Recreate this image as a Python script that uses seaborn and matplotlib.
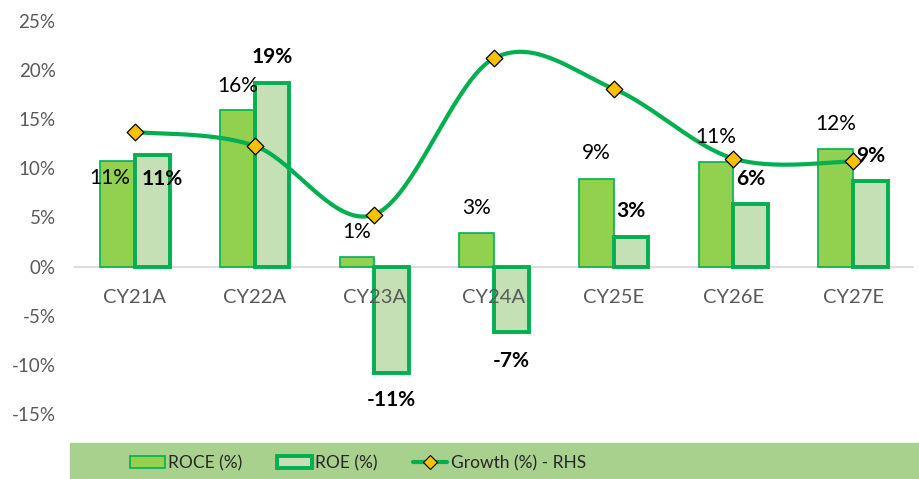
import numpy as np
import pandas as pd
import seaborn as sns
import matplotlib.pyplot as plt
from matplotlib.patches import Rectangle, Patch
from matplotlib.lines import Line2D

# data
categories = ["CY21A", "CY22A", "CY23A", "CY24A", "CY25E", "CY26E", "CY27E"]
roce = [10.8, 15.9, 1.0, 3.4, 8.9, 10.6, 12.0]
roe = [11.4, 18.7, -10.8, -6.7, 3.0, 6.4, 8.7]
growth = [13.7, 12.3, 5.3, 21.2, 18.1, 11.0, 10.7]
roce_labels = ["11%", "16%", "1%", "3%", "9%", "11%", "12%"]
roe_labels = ["11%", "19%", "-11%", "-7%", "3%", "6%", "9%"]

# label nudges in pixels (Excel labels were moved by hand in a couple of places)
roce_offsets = [(-8, -17), (0, 24), (0, 25), (0, 25), (0, 26), (0, 25), (0, 25)]
roe_offsets = [(10, -24), (0, 26), (0, -27), (0, -29), (0, 26), (0, 25), (0, 25)]

sns.set_style("white")
plt.rcParams["font.family"] = ["Lato", "DejaVu Sans"]

GREEN = "#00B050"
ROCE_FILL = "#92D050"
ROE_FILL = "#C5E0B4"
GOLD = "#FFC000"

fig = plt.figure(figsize=(9.19, 4.79), dpi=100)
ax = fig.add_axes([75 / 919, 1 - 414 / 479, 838 / 919, 393 / 479])

df = pd.DataFrame({
    "cat": categories * 2,
    "metric": ["ROCE (%)"] * 7 + ["ROE (%)"] * 7,
    "value": roce + roe,
})
sns.barplot(data=df, x="cat", y="value", hue="metric", order=categories,
            palette=[ROCE_FILL, ROE_FILL], width=0.58, gap=0, saturation=1,
            legend=False, ax=ax, zorder=2)

for bar in ax.containers[0]:
    bar.set_edgecolor(GREEN)
    bar.set_linewidth(1.2)
for bar in ax.containers[1]:
    bar.set_edgecolor(GREEN)
    bar.set_linewidth(2.8)

# smoothed growth line (Excel style bezier through the points)
xs = np.arange(len(growth), dtype=float)
ys = np.array(growth, dtype=float)
px = np.concatenate([[xs[0]], xs, [xs[-1]]])
py = np.concatenate([[ys[0]], ys, [ys[-1]]])
t = np.linspace(0, 1, 40)
cx, cy = [], []
for i in range(len(xs) - 1):
    p0 = np.array([px[i + 1], py[i + 1]])
    p3 = np.array([px[i + 2], py[i + 2]])
    p1 = p0 + (p3 - np.array([px[i], py[i]])) / 6
    p2 = p3 - (np.array([px[i + 3], py[i + 3]]) - p0) / 6
    seg = ((1 - t) ** 3)[:, None] * p0 + (3 * (1 - t) ** 2 * t)[:, None] * p1 \
        + (3 * (1 - t) * t ** 2)[:, None] * p2 + (t ** 3)[:, None] * p3
    cx.extend(seg[:, 0])
    cy.extend(seg[:, 1])
ax.plot(cx, cy, color=GREEN, lw=3.0, zorder=4, solid_capstyle="round")
ax.scatter(xs, ys, marker="D", s=72, color=GOLD, edgecolor="black",
           linewidth=0.9, zorder=5)

# data labels
for i, bar in enumerate(ax.containers[0]):
    xc = bar.get_x() + bar.get_width() / 2
    ax.annotate(roce_labels[i], (xc, roce[i]), xytext=roce_offsets[i],
                textcoords="offset pixels", ha="center", va="center",
                fontsize=15, color="black", zorder=6)
for i, bar in enumerate(ax.containers[1]):
    xc = bar.get_x() + bar.get_width() / 2
    ax.annotate(roe_labels[i], (xc, roe[i]), xytext=roe_offsets[i],
                textcoords="offset pixels", ha="center", va="center",
                fontsize=15, fontweight="bold", color="black", zorder=6)

ax.set_ylim(-15, 25)
ax.set_xlim(-0.5, 6.5)
ax.set_yticks(np.arange(-15, 26, 5))
ax.set_yticklabels([f"{v}%" for v in range(-15, 26, 5)])
ax.set_xlabel("")
ax.set_ylabel("")
for s in ["top", "right", "left"]:
    ax.spines[s].set_visible(False)
ax.spines["bottom"].set_position(("data", 0))
ax.spines["bottom"].set_color("#D9D9D9")
ax.spines["bottom"].set_linewidth(1.3)
ax.spines["bottom"].set_zorder(1)
ax.xaxis.set_zorder(3)
ax.tick_params(axis="x", length=0, pad=16, labelsize=14.5, labelcolor="#595959")
ax.tick_params(axis="y", length=0, pad=14, labelsize=13.5, labelcolor="#595959")

# legend band
fig.patches.append(Rectangle((70 / 919, 0), 1 - 70 / 919, 36 / 479,
                             transform=fig.transFigure, color="#A9D18E", zorder=0))
handles = [
    Patch(facecolor=ROCE_FILL, edgecolor=GREEN, linewidth=1.2),
    Patch(facecolor=ROE_FILL, edgecolor=GREEN, linewidth=2.8),
    Line2D([0], [0], color=GREEN, lw=3.0, marker="D", markersize=7,
           markerfacecolor=GOLD, markeredgecolor="black", markeredgewidth=0.8),
]
fig.legend(handles, ["ROCE (%)", "ROE (%)", "Growth (%) - RHS"], ncol=3,
           loc="center", bbox_to_anchor=(358 / 919, 16 / 479), frameon=False,
           fontsize=12.5, handlelength=2.0, handleheight=0.75, handletextpad=0.2,
           columnspacing=2.0)

fig.savefig("out.png", dpi=100)
